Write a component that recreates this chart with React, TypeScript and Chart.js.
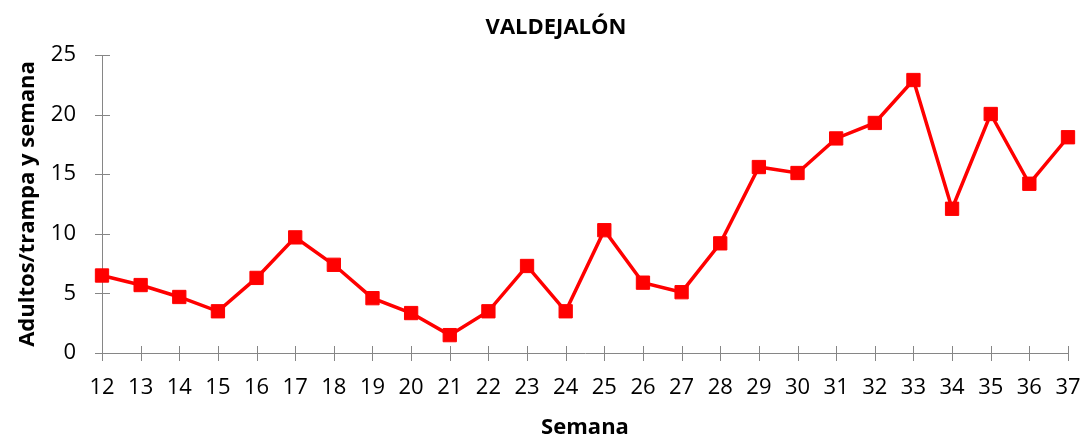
import React, { useEffect, useRef } from "react";
import { Chart, registerables } from "chart.js";

Chart.register(...registerables);

const weeks: string[] = ["12","13","14","15","16","17","18","19","20","21","22","23","24","25","26","27","28","29","30","31","32","33","34","35","36","37"];
const adults: number[] = [6.5,5.7,4.7,3.5,6.3,9.7,7.4,4.6,3.35,1.5,3.5,7.3,3.5,10.3,5.9,5.1,9.2,15.6,15.1,18.0,19.3,22.9,12.1,20.05,14.2,18.1];
const titleText = "VALDEJALÓN";
const yTitle = "Adultos/trampa y semana";
const xTitle = "Semana";

const FONT = "'Open Sans', 'Noto Sans', sans-serif";
const AXIS = "#868686";
const TITLE_CENTER = 556;

const crossTicks = {
  id: "crossTicks",
  afterLayout(chart: any) {
    const tb = chart.titleBlock;
    if (tb) {
      tb.left = 2 * TITLE_CENTER - tb.right;
      tb.width = tb.right - tb.left;
    }
  },
  beforeDatasetsDraw(chart: any) {
    const ctx = chart.ctx;
    const x = chart.scales.x;
    const y = chart.scales.y;
    const area = chart.chartArea;
    ctx.save();
    ctx.strokeStyle = AXIS;
    ctx.lineWidth = 1;
    ctx.beginPath();
    for (let i = 0; i < y.ticks.length; i++) {
      const py = Math.round(y.getPixelForTick(i)) + 0.5;
      ctx.moveTo(area.left - 7, py);
      ctx.lineTo(area.left + 8, py);
    }
    for (let i = 0; i < x.ticks.length; i++) {
      const px = Math.round(x.getPixelForTick(i)) + 0.5;
      ctx.moveTo(px, area.bottom - 7);
      ctx.lineTo(px, area.bottom + 8);
    }
    ctx.stroke();
    ctx.restore();
  },
};

export default function App() {
  const ref = useRef<HTMLCanvasElement | null>(null);
  useEffect(() => {
    if (!ref.current) return;
    const chart = new Chart(ref.current, {
      type: "line",
      data: {
        labels: weeks,
        datasets: [
          {
            data: adults,
            borderColor: "#FF0000",
            backgroundColor: "#FF0000",
            borderWidth: 3.5,
            pointStyle: "rect",
            pointRadius: 9.4,
            pointHoverRadius: 9.4,
            pointBorderWidth: 1,
            pointBorderColor: "#FF0000",
            pointBackgroundColor: "#FF0000",
            tension: 0,
          },
        ],
      },
      options: {
        responsive: false,
        animation: false,
        layout: { padding: { left: 0, right: 16, top: 0, bottom: 0 } },
        plugins: {
          legend: { display: false },
          tooltip: { enabled: false },
          title: {
            display: true,
            text: titleText,
            color: "#000",
            font: { family: FONT, size: 22, weight: "bold", lineHeight: 1.2 },
            padding: { top: 15, bottom: 13.6 },
          },
        },
        scales: {
          x: {
            offset: false,
            afterFit: (s: any) => { s.height = 84; s.paddingLeft = 0; s.paddingRight = 0; },
            border: { display: true, color: AXIS, width: 1 },
            grid: { display: true, drawOnChartArea: false, drawTicks: false, color: AXIS },
            ticks: { color: "#000", font: { family: FONT, size: 22 }, padding: 22, maxRotation: 0, autoSkip: false },
            title: { display: true, text: xTitle, color: "#000", font: { family: FONT, size: 22, weight: "bold", lineHeight: 1.2 }, padding: { top: 0, bottom: -4 } },
          },
          y: {
            min: 0,
            max: 25,
            afterFit: (s: any) => { s.width = 102; s.paddingTop = 0; s.paddingBottom = 0; },
            border: { display: true, color: AXIS, width: 1 },
            grid: { display: true, drawOnChartArea: false, drawTicks: false, color: AXIS },
            ticks: { stepSize: 5, color: "#000", font: { family: FONT, size: 22 }, padding: 26 },
            title: { display: true, text: yTitle, color: "#000", font: { family: FONT, size: 22, weight: "bold", lineHeight: 1.2 }, padding: { top: 15, bottom: 0 } },
          },
        },
      },
      plugins: [crossTicks],
    });
    return () => chart.destroy();
  }, []);
  return (
    <div style={{ position: "fixed", left: 0, top: 0, width: 1084, height: 437, background: "#fff" }}>
      <canvas ref={ref} width={1084} height={437} style={{ width: 1084, height: 437, display: "block" }} />
    </div>
  );
}
